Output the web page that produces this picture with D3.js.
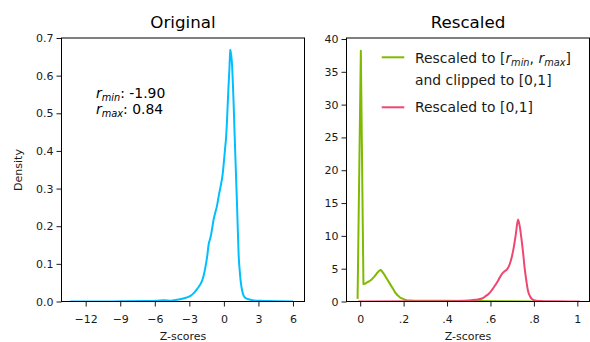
<!DOCTYPE html>
<html>
<head>
<meta charset="utf-8">
<script src="https://cdn.jsdelivr.net/npm/d3@7"></script>
<style>
  html, body { margin: 0; padding: 0; background: #fff; }
  svg { display: block; font-family: "DejaVu Sans", sans-serif; }
</style>
</head>
<body>
<div id="chart"></div>
<script>
// left panel: density of the original z-scores
const origZ = [-13.35, -11, -9, -7, -5.8, -5.2, -4.6, -4.2, -3.8, -3.3, -2.9, -2.6, -2.33, -2.1, -1.9, -1.75, -1.61,
  -1.45, -1.32, -1.2, -1.11, -1.0, -0.89, -0.75, -0.6, -0.45, -0.25, -0.1, -0.02, 0.1, 0.19, 0.27, 0.33, 0.4, 0.47,
  0.53, 0.56, 0.63, 0.71, 0.78, 0.85, 0.92, 0.99, 1.07, 1.14, 1.21, 1.28, 1.38, 1.49, 1.6, 1.72, 1.9, 2.15, 2.6,
  3.2, 4.0, 5.0, 6.0];
const origDensity = [0, 0, 0.0005, 0.001, 0.002, 0.003, 0.002, 0.004, 0.006, 0.01, 0.015, 0.023, 0.033, 0.043, 0.055,
  0.07, 0.09, 0.12, 0.152, 0.166, 0.178, 0.198, 0.218, 0.236, 0.254, 0.28, 0.311, 0.34, 0.364, 0.405, 0.435, 0.48,
  0.523, 0.57, 0.612, 0.655, 0.669, 0.655, 0.629, 0.58, 0.523, 0.455, 0.391, 0.32, 0.258, 0.19, 0.125, 0.08, 0.046,
  0.027, 0.015, 0.009, 0.006, 0.003, 0.002, 0.001, 0.0005, 0];

// right panel: rescaled to [rmin, rmax] and clipped
const clipZ = [-0.012, 0.003, 0.015, 0.025, 0.031, 0.04, 0.047, 0.054, 0.065, 0.077, 0.088, 0.095, 0.105, 0.115, 0.127,
  0.138, 0.15, 0.161, 0.172, 0.184, 0.2, 0.215, 0.25, 0.3, 0.4, 0.5, 0.55, 0.65, 0.8];
const clipDensity = [0.4, 38.2, 2.65, 2.75, 2.9, 3.05, 3.2, 3.4, 3.8, 4.3, 4.7, 4.8, 4.4, 3.9, 3.25,
  2.65, 2.0, 1.37, 0.95, 0.6, 0.35, 0.2, 0.12, 0.1, 0.1, 0.08, 0.06, 0.03, 0];

// right panel: rescaled to [0,1]
const rescZ = [-0.01, 0.3, 0.45, 0.5, 0.53, 0.561, 0.575, 0.591, 0.603, 0.614, 0.63, 0.642, 0.653, 0.665, 0.676, 0.685,
  0.691, 0.699, 0.707, 0.717, 0.727, 0.735, 0.742, 0.75, 0.757, 0.765, 0.773, 0.782, 0.791, 0.81, 0.85, 0.9, 1.01];
const rescDensity = [0, 0.02, 0.08, 0.15, 0.25, 0.45, 0.75, 1.13, 1.6, 2.1, 2.9, 3.6, 4.2, 4.6, 4.9, 5.4,
  5.95, 6.9, 8.2, 10.3, 12.5, 11.4, 9.75, 7.5, 5.2, 3.2, 1.6, 0.8, 0.37, 0.12, 0.04, 0.02, 0];

const origXTicks = [-12, -9, -6, -3, 0, 3, 6];
const origYTicks = [0, 0.1, 0.2, 0.3, 0.4, 0.5, 0.6, 0.7];
const rescXTicks = [0, 0.2, 0.4, 0.6, 0.8, 1];
const rescXTickLabels = ["0", ".2", ".4", ".6", ".8", "1"];
const rescYTicks = [0, 5, 10, 15, 20, 25, 30, 35, 40];

const colors = { orig: "#00bfff", clip: "#7fba00", resc: "#ef476f" };

const width = 590, height = 342;
const plotTop = 38, plotBottom = 301.5;

const svg = d3.select("#chart").append("svg")
  .attr("width", width)
  .attr("height", height);

svg.append("rect").attr("width", width).attr("height", height).attr("fill", "#fff");

function panel(opts) {
  const x = d3.scaleLinear().domain(opts.xDomain).range(opts.xRange);
  const y = d3.scaleLinear().domain(opts.yDomain).range([plotBottom, plotTop]);
  const g = svg.append("g");

  const clipId = "clip-" + opts.name;
  svg.append("clipPath").attr("id", clipId)
    .append("rect")
    .attr("x", opts.xRange[0]).attr("y", plotTop - 2)
    .attr("width", opts.xRange[1] - opts.xRange[0]).attr("height", plotBottom - plotTop + 2);

  opts.series.forEach(s => {
    const line = d3.line()
      .x(d => x(d[0]))
      .y(d => y(d[1]))
      .curve(s.curve || d3.curveMonotoneX);
    g.append("path")
      .datum(d3.zip(s.z, s.density))
      .attr("clip-path", `url(#${clipId})`)
      .attr("d", line)
      .attr("fill", "none")
      .attr("stroke", s.color)
      .attr("stroke-width", 2)
      .attr("stroke-linejoin", "round");
  });

  // frame
  g.append("rect")
    .attr("x", opts.xRange[0]).attr("y", plotTop)
    .attr("width", opts.xRange[1] - opts.xRange[0]).attr("height", plotBottom - plotTop)
    .attr("fill", "none").attr("stroke", "#000").attr("stroke-width", 1);

  const xAxis = g.append("g")
    .attr("transform", `translate(0,${plotBottom})`)
    .call(d3.axisBottom(x).tickValues(opts.xTicks).tickFormat(opts.xFormat)
      .tickSize(5).tickPadding(8.5));
  const yAxis = g.append("g")
    .attr("transform", `translate(${opts.xRange[0]},0)`)
    .call(d3.axisLeft(y).tickValues(opts.yTicks).tickFormat(opts.yFormat)
      .tickSize(5).tickPadding(3));

  [xAxis, yAxis].forEach(a => {
    a.select(".domain").remove();
    a.selectAll("line").attr("stroke", "#000").attr("stroke-width", 0.9);
    a.selectAll("text").attr("fill", "#1a1a1a").style("font-size", "11px")
      .style("font-family", "DejaVu Sans, sans-serif");
  });

  const cx = (opts.xRange[0] + opts.xRange[1]) / 2;
  g.append("text")
    .attr("x", cx).attr("y", 27.5)
    .attr("text-anchor", "middle")
    .style("font-size", "16.7px")
    .attr("fill", "#000")
    .text(opts.title);

  g.append("text")
    .attr("x", cx).attr("y", 339.5)
    .attr("text-anchor", "middle")
    .style("font-size", "11px")
    .attr("fill", "#1a1a1a")
    .text("Z-scores");

  return { x, y, g };
}

const left = panel({
  name: "orig",
  title: "Original",
  xDomain: [-14.1, 7.0], xRange: [61.5, 304.5],
  yDomain: [0, 0.7],
  xTicks: origXTicks, xFormat: d => d < 0 ? "\u2212" + Math.abs(d) : String(d),
  yTicks: origYTicks, yFormat: d3.format(".1f"),
  series: [{ z: origZ, density: origDensity, color: colors.orig }]
});

left.g.append("text")
  .attr("transform", "translate(21.5,170) rotate(-90)")
  .attr("text-anchor", "middle")
  .style("font-size", "11px")
  .attr("fill", "#1a1a1a")
  .text("Density");

// r_min / r_max annotation
function mathLabel(sel, sub, rest) {
  sel.append("tspan").style("font-style", "italic").text("r");
  sel.append("tspan").style("font-style", "italic").style("font-size", "9.8px")
    .attr("dy", 3).text(sub);
  sel.append("tspan").attr("dy", -3).text(rest);
}

const ann = left.g.append("g").style("font-size", "13.9px").attr("fill", "#000");
mathLabel(ann.append("text").attr("x", 96).attr("y", 98.3), "min", ": -1.90");
mathLabel(ann.append("text").attr("x", 96).attr("y", 113.5), "max", ": 0.84");

const right = panel({
  name: "resc",
  title: "Rescaled",
  xDomain: [-0.063, 1.056], xRange: [346.5, 589.5],
  yDomain: [0, 40.15],
  xTicks: rescXTicks, xFormat: (d, i) => rescXTickLabels[i],
  yTicks: rescYTicks, yFormat: d3.format("d"),
  series: [
    { z: clipZ, density: clipDensity, color: colors.clip, curve: d3.curveLinear },
    { z: rescZ, density: rescDensity, color: colors.resc }
  ]
});

// legend
const legend = right.g.append("g").style("font-size", "13.9px").attr("fill", "#1a1a1a");
legend.append("line").attr("x1", 381.7).attr("x2", 404.3).attr("y1", 57.3).attr("y2", 57.3)
  .attr("stroke", colors.clip).attr("stroke-width", 2);
legend.append("line").attr("x1", 381.7).attr("x2", 404.3).attr("y1", 107.3).attr("y2", 107.3)
  .attr("stroke", colors.resc).attr("stroke-width", 2);

const l1 = legend.append("text").attr("x", 415).attr("y", 63.3);
l1.append("tspan").text("Rescaled to [");
l1.append("tspan").style("font-style", "italic").text("r");
l1.append("tspan").style("font-style", "italic").style("font-size", "9.8px").attr("dy", 3).text("min");
l1.append("tspan").attr("dy", -3).text(", ");
l1.append("tspan").style("font-style", "italic").text("r");
l1.append("tspan").style("font-style", "italic").style("font-size", "9.8px").attr("dy", 3).text("max");
l1.append("tspan").attr("dy", -3).text("]");
legend.append("text").attr("x", 415).attr("y", 85).text("and clipped to [0,1]");
legend.append("text").attr("x", 415).attr("y", 111.7).text("Rescaled to [0,1]");
</script>
</body>
</html>
